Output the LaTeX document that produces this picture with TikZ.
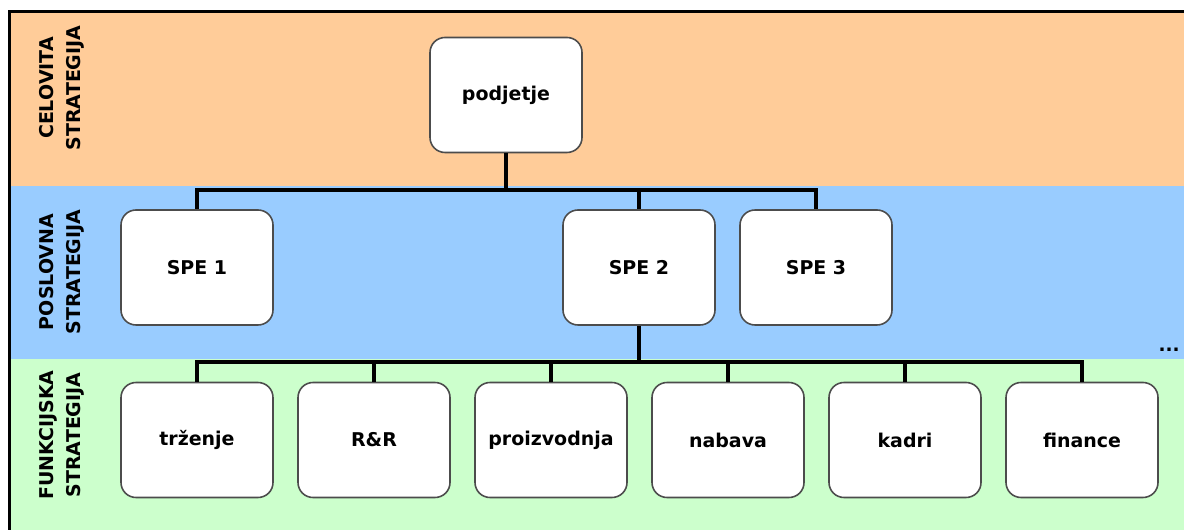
\documentclass[tikz,border=0pt]{standalone}
\usepackage{fontspec}
\usepackage{tikz}
\setsansfont{DejaVu Sans}
\definecolor{orangeband}{HTML}{FFCC99}
\definecolor{blueband}{HTML}{99CCFF}
\definecolor{greenband}{HTML}{CCFFCC}
\definecolor{boxline}{rgb}{0.3,0.3,0.3}

\begin{document}
\begin{tikzpicture}[
		unit/.style={draw=boxline,line width=0.9pt,fill=white,rounded corners=0.3cm,
			minimum width=3.04cm,minimum height=2.3cm,inner sep=0pt,
			font=\sffamily\bfseries\fontsize{10.8}{12}\selectfont},
		level/.style={rotate=90,align=center,inner sep=0pt,
			font=\sffamily\bfseries\fontsize{10.8}{15.4}\selectfont},
		conn/.style={line width=0.085cm}
	]
		\useasboundingbox (0,0) rectangle (23.68,10.6);
		% bands
		\fill[orangeband] (0.19,6.88) rectangle (23.68,10.36);
		\fill[blueband] (0.19,3.42) rectangle (23.68,6.88);
		\fill[greenband] (0.19,0) rectangle (23.68,3.42);
		\draw[line width=0.06cm] (0.19,0) -- (0.19,10.37) -- (23.68,10.37);

		\node[level] (celovita) at (1.23,8.84) {CELOVITA\\STRATEGIJA};
		\node[level] (poslovna) at (1.23,5.16) {POSLOVNA\\STRATEGIJA};
		\node[level] (funkcijska) at (1.23,1.9) {FUNKCIJSKA\\STRATEGIJA};

		% boxes
		\node[unit] (podjetje) at (10.12,8.7) {podjetje};

		\node[unit] (spe1) at (3.94,5.25) {SPE 1};
		\node[unit] (spe2) at (12.78,5.25) {SPE 2};
		\node[unit] (spe3) at (16.32,5.25) {SPE 3};

		\node[unit] (trzenje) at (3.94,1.8) {trženje};
		\node[unit] (rr) at (7.48,1.8) {R\&R};
		\node[unit] (proizvodnja) at (11.02,1.8) {proizvodnja};
		\node[unit] (nabava) at (14.56,1.8) {nabava};
		\node[unit] (kadri) at (18.10,1.8) {kadri};
		\node[unit] (finance) at (21.64,1.8) {finance};

		\node[font=\sffamily\bfseries\fontsize{10.5}{12}\selectfont] (more) at (23.38,3.6) {...};

		% lines
		\path (podjetje.south) ++(0,-0.73) coordinate (bus1);
		\path (spe2.south) ++(0,-0.72) coordinate (bus2);
		\draw[conn] (podjetje.south) -- (bus1);
		\draw[conn] (bus1) -| (spe1.north);
		\draw[conn] (bus1) -| (spe2.north);
		\draw[conn] (bus1) -| (spe3.north);
		\draw[conn] (spe2.south) -- (bus2);
		\draw[conn] (bus2) -| (trzenje.north);
		\draw[conn] (bus2) -| (rr.north);
		\draw[conn] (bus2) -| (proizvodnja.north);
		\draw[conn] (bus2) -| (nabava.north);
		\draw[conn] (bus2) -| (kadri.north);
		\draw[conn] (bus2) -| (finance.north);
\end{tikzpicture}
\end{document}
